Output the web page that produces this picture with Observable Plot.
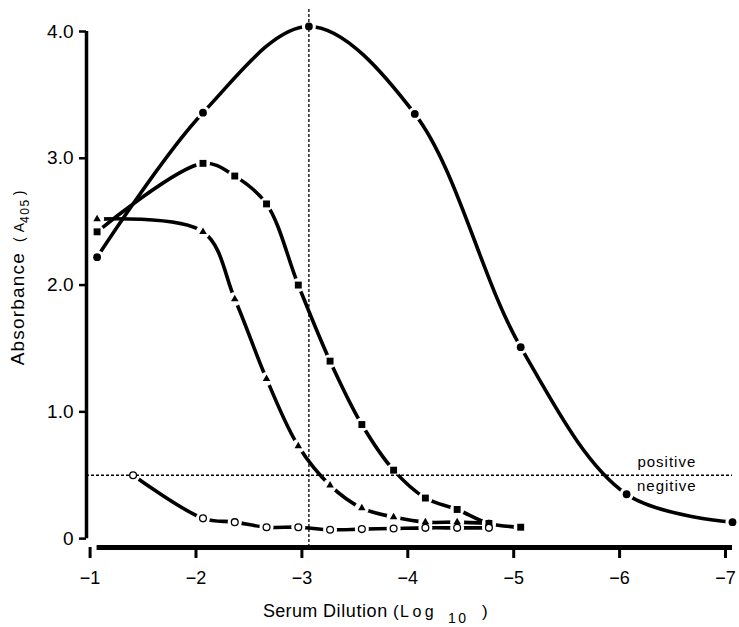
<!DOCTYPE html>
<html><head><meta charset="utf-8">
<script src="https://cdn.jsdelivr.net/npm/d3@7"></script>
<script src="https://cdn.jsdelivr.net/npm/@observablehq/plot@0.6"></script>
<style>body{margin:0;background:#fff} svg{display:block}</style>
</head><body><div id="chart"></div>
<script>
// ---- data ----
const xTicks = [-1, -2, -3, -4, -5, -6, -7];
const xTickLabels = ["−1", "−2", "−3", "−4", "−5", "−6", "−7"];
const yTicks = [0, 1, 2, 3, 4];
const yTickLabels = ["0", "1.0", "2.0", "3.0", "4.0"];

const circleX = [-1, -2, -3, -4, -5, -6, -7];
const circleY = [2.22, 3.36, 4.04, 3.35, 1.51, 0.35, 0.13];

const squareX = [-1, -2, -2.3, -2.6, -2.9, -3.2, -3.5, -3.8, -4.1, -4.4, -4.7, -5.0];
const squareY = [2.42, 2.96, 2.86, 2.64, 2.00, 1.40, 0.90, 0.54, 0.32, 0.23, 0.12, 0.09];

const triangleX = [-1, -2, -2.3, -2.6, -2.9, -3.2, -3.5, -3.8, -4.1, -4.4, -4.7];
const triangleY = [2.52, 2.42, 1.89, 1.26, 0.73, 0.42, 0.24, 0.17, 0.13, 0.13, 0.12];

const openX = [-1.34, -2, -2.3, -2.6, -2.9, -3.2, -3.5, -3.8, -4.1, -4.4, -4.7];
const openY = [0.50, 0.16, 0.13, 0.09, 0.09, 0.07, 0.075, 0.08, 0.085, 0.085, 0.085];

const cutoff = 0.5;
const peakDilution = -3;
const noteText = ["positive", "negitive"];
const noteX = [-6.38, -6.38];
const noteY = [0.60, 0.41];

// ---- build tables ----
const rows = (xs, ys) => xs.map((x, i) => ({x, y: ys[i]}));
const circles = rows(circleX, circleY);
const squares = rows(squareX, squareY);
const triangles = rows(triangleX, triangleY);
const opens = rows(openX, openY);
const all = [...circles, ...squares, ...triangles, ...opens];
const notes = noteText.map((t, i) => ({t, x: noteX[i], y: noteY[i]}));

const font = "'Liberation Sans', Arial, Helvetica, sans-serif";
const xMin = -0.9, yMin = -0.07;
const curve = "catmull-rom";

const svg = Plot.plot({
  width: 739, height: 627,
  marginLeft: 86, marginRight: 7, marginTop: 31, marginBottom: 80,
  style: {fontFamily: font, fontSize: "18px", background: "#fff", color: "#000"},
  x: {domain: [xMin, -7]},
  y: {domain: [yMin, 4]},
  marks: [
    Plot.line(circles, {x: "x", y: "y", curve, stroke: "#000", strokeWidth: 3.6}),
    Plot.line(squares, {x: "x", y: "y", curve, stroke: "#000", strokeWidth: 3.6}),
    Plot.line(triangles, {x: "x", y: "y", curve, stroke: "#000", strokeWidth: 3.6}),
    Plot.line(opens, {x: "x", y: "y", curve, stroke: "#000", strokeWidth: 3.6}),
    Plot.dot(all, {x: "x", y: "y", r: 7, fill: "#fff", stroke: "none"}),
    Plot.ruleY([cutoff], {stroke: "#000", strokeWidth: 1.3, strokeDasharray: "3,2"}),
    Plot.ruleX([peakDilution], {y1: yMin, y2: 4.18, stroke: "#000", strokeWidth: 1.3, strokeDasharray: "3,2"}),
    Plot.dot(circles, {x: "x", y: "y", r: 3.9, fill: "#000", symbol: "circle"}),
    Plot.dot(squares, {x: "x", y: "y", r: 3.9, fill: "#000", symbol: "square"}),
    Plot.dot(triangles, {x: "x", y: "y", r: 2.8, fill: "#000", symbol: "triangle"}),
    Plot.dot(opens, {x: "x", y: "y", r: 3.4, fill: "#fff", stroke: "#000", strokeWidth: 1.3}),
    Plot.text(notes, {x: "x", y: "y", text: "t", fontSize: 15, textAnchor: "middle", fill: "#000"}),
    // axes
    Plot.ruleY([yMin], {x1: xTicks[0], x2: xTicks[xTicks.length - 1], stroke: "#000", strokeWidth: 5}),
    Plot.axisX(xTicks, {tickSize: 11, strokeWidth: 3, tickPadding: 13, fontSize: 18, dx: -7,
      tickFormat: d => xTickLabels[xTicks.indexOf(d)], label: null}),
    Plot.ruleX([xMin], {y1: yTicks[0], y2: yTicks[yTicks.length - 1], stroke: "#000", strokeWidth: 3.5}),
    Plot.axisY(yTicks, {tickSize: 7, strokeWidth: 2.5, tickPadding: 6, fontSize: 19,
      tickFormat: d => yTickLabels[yTicks.indexOf(d)], label: null})
  ]
});
document.getElementById("chart").appendChild(svg);

const s = d3.select(svg);
s.selectAll("text").filter(function() { return this.textContent === "positive" || this.textContent === "negitive"; })
  .style("letter-spacing", "1px");

// y axis title
const yl = s.append("text")
  .attr("transform", "translate(24,278) rotate(-90)")
  .attr("text-anchor", "middle").style("text-anchor", "middle")
  .attr("font-family", font).attr("fill", "#000");
yl.append("tspan").attr("font-size", 19).style("letter-spacing", "1.2px").text("Absorbance");
yl.append("tspan").attr("font-size", 14).attr("dx", 10).text("(");
yl.append("tspan").attr("font-size", 14).attr("dx", 5).text("A");
yl.append("tspan").attr("font-size", 12).attr("dy", 5).style("letter-spacing", "1.5px").text("405");
yl.append("tspan").attr("font-size", 14).attr("dy", -5).attr("dx", 3).text(")");

// x axis title
const tb = 617;
const xt = (x, size, str, ls, dy) => s.append("text").attr("x", x).attr("y", tb + (dy || 0))
  .attr("text-anchor", "start").style("text-anchor", "start")
  .attr("font-family", font).attr("font-size", size).attr("fill", "#000")
  .style("letter-spacing", (ls || 0) + "px").text(str);
xt(263, 18, "Serum", 0.3);
xt(323, 18, "Dilution", 0.6);
xt(393, 17, "(");
xt(400, 16, "Log", 3.5);
xt(448, 14, "10", 2.5, 6);
xt(482, 17, ")");
</script>
</body></html>
